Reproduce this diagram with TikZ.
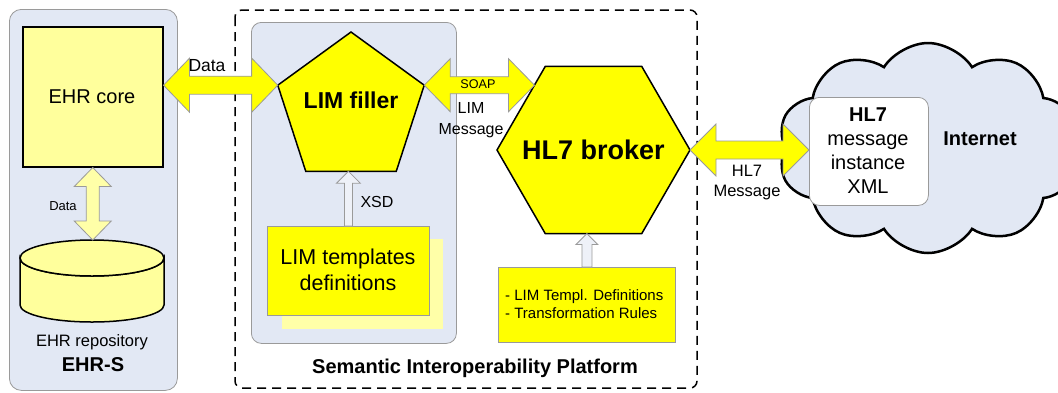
\documentclass[tikz,border=0pt]{standalone}
\usepackage{fontspec}
\setmainfont{Liberation Sans}
\usetikzlibrary{shapes.geometric,shapes.symbols,calc}
\definecolor{panel}{HTML}{E2E8F4}
\definecolor{paleyel}{HTML}{FFFF9C}
\definecolor{paleyel2}{HTML}{FFFFA8}
\definecolor{yel}{HTML}{FFFF00}
\definecolor{edgegray}{HTML}{9A9A9A}
\newcommand\fs[2]{\fontsize{#1}{#2}\selectfont}
% horizontal double arrow: style, left tip, right tip, shaft half, head half, head length
\newcommand\hdbl[6]{\path[#1] let \p1=(#2), \p2=(#3) in
  (\x1,\y1) -- (\x1+#6,\y1+#5) -- (\x1+#6,\y1+#4) -- (\x2-#6,\y1+#4) -- (\x2-#6,\y1+#5) -- (\x2,\y1)
  -- (\x2-#6,\y1-#5) -- (\x2-#6,\y1-#4) -- (\x1+#6,\y1-#4) -- (\x1+#6,\y1-#5) -- cycle;}
% vertical double arrow: style, top tip, bottom tip, shaft half, head half, head length
\newcommand\vdbl[6]{\path[#1] let \p1=(#2), \p2=(#3) in
  (\x1,\y1) -- (\x1+#5,\y1-#6) -- (\x1+#4,\y1-#6) -- (\x1+#4,\y2+#6) -- (\x1+#5,\y2+#6) -- (\x1,\y2)
  -- (\x1-#5,\y2+#6) -- (\x1-#4,\y2+#6) -- (\x1-#4,\y1-#6) -- (\x1-#5,\y1-#6) -- cycle;}
% upward single arrow: style, base, tip, shaft half, head half, head length
\newcommand\uparr[6]{\path[#1] let \p1=(#2), \p2=(#3) in
  (\x1-#4,\y1) -- (\x1-#4,\y2-#6) -- (\x1-#5,\y2-#6) -- (\x1,\y2) -- (\x1+#5,\y2-#6) -- (\x1+#4,\y2-#6) -- (\x1+#4,\y1) -- cycle;}
\tikzset{
  panelbox/.style={draw=edgegray, fill=panel, line width=0.8pt, rounded corners=12pt},
  boxy/.style={draw=edgegray, fill=yel, line width=0.8pt, inner sep=0pt},
  bigarrow/.style={draw=edgegray, fill=yel, line width=0.8pt},
  palearrow/.style={draw=edgegray, fill=paleyel2, line width=0.8pt},
  lightarrow/.style={draw=edgegray, fill=panel!60!white, line width=0.8pt},
  blackshape/.style={draw=black, fill=yel, line width=1.5pt, inner sep=0pt, outer sep=0pt},
  txt/.style={inner sep=0pt, align=center},
}
\begin{document}
\begin{tikzpicture}[x=1pt,y=-1pt]
\useasboundingbox (0,0) rectangle (1058,392);
\clip (0,0) rectangle (1058,392);
\fill[white] (0,0) rectangle (1058,392);

% ---------- EHR-S panel ----------
\node[panelbox, minimum width=168pt, minimum height=381pt, anchor=north west] (ehrs) at (9,9) {};
\node[draw=black, fill=paleyel, line width=1.5pt, minimum width=140pt, minimum height=140pt, anchor=north west, inner sep=0pt] (core) at (22,26) {};
\node[txt, font=\fs{20}{24}] (coretxt) at (92,97) {EHR core};
% cylinder (EHR repository)
\coordinate (repo) at (92,240);
\path[draw=black, fill=paleyel, line width=1.5pt]
  (20,258) -- (20,305) arc[start angle=180, end angle=360, x radius=72pt, y radius=17pt]
  -- (164,258) arc[start angle=0, end angle=-180, x radius=72pt, y radius=18pt] -- cycle;
\path[draw=black, fill=paleyel, line width=1.5pt] (92,258) ellipse[x radius=72pt, y radius=18pt];
\node[txt, font=\fs{16.5}{20}] (repotxt) at (92,342) {EHR repository};
\node[txt, font=\fs{20}{24}\bfseries] (ehrstxt) at (93,365) {EHR-S};

% ---------- Semantic Interoperability Platform ----------
\draw[dashed, dash pattern=on 9pt off 6pt, line width=1.5pt, rounded corners=7pt] (235,10) rectangle (697,388);
\node[txt, font=\fs{20}{24}\bfseries] (siptxt) at (475,368) {Semantic Interoperability Platform};
\node[panelbox, rounded corners=10pt, minimum width=205pt, minimum height=321pt, anchor=north west] (limpanel) at (251,22) {};

% LIM filler pentagon
\node[blackshape, regular polygon, regular polygon sides=5, minimum size=154pt] (filler) at (351,109) {};
\node[txt, font=\fs{23}{27}\bfseries] (fillertxt) at (351,100) {LIM filler};

% LIM templates definitions
\node[fill=paleyel2, minimum width=161pt, minimum height=90pt, anchor=north west, inner sep=0pt] (limshadow) at (282,239) {};
\node[boxy, minimum width=162pt, minimum height=89pt, anchor=north west] (limtpl) at (267,226) {};
\node[txt, font=\fs{21.5}{26}] (limtpltxt) at (348,270) {LIM templates\\definitions};
\coordinate (xsdtip) at (filler.south);
\uparr{lightarrow}{limtpl.north}{xsdtip}{4pt}{12pt}{12pt}
\node[txt, font=\fs{16}{20}] (xsdtxt) at (377,202) {XSD};

% HL7 broker hexagon
\node[blackshape, regular polygon, regular polygon sides=6, minimum size=193pt] (broker) at (593.5,150) {};
\node[txt, font=\fs{27}{32}\bfseries] (brokertxt) at (593.5,150) {HL7 broker};

% rules box
\node[boxy, minimum width=177pt, minimum height=75pt, anchor=north west] (rules) at (498,267) {};
\node[txt, align=left, anchor=west, font=\fs{15}{18}] (rulestxt) at (505,304) {- LIM Templ. Definitions\\- Transformation Rules};
\coordinate (rulestip) at (rules.north |- broker.south);
\uparr{lightarrow}{rules.north}{rulestip}{5pt}{11pt}{11pt}

% ---------- arrows ----------
% Data (EHR core <-> LIM filler)
\coordinate (datastart) at (core.east |- filler.162);
\hdbl{bigarrow}{datastart}{filler.162}{9pt}{27pt}{26pt}
\node[txt, font=\fs{17.5}{21}] (datatxt) at (207,66) {Data};
% Data (EHR core <-> repository)
\vdbl{palearrow}{core.south}{repo}{6.5pt}{18.5pt}{19pt}
\node[txt, font=\fs{13}{16}] (data2txt) at (63,206) {Data};
% SOAP (LIM filler <-> HL7 broker)
\coordinate (soapend) at (534.5,83.5);
\hdbl{bigarrow}{filler.18}{soapend}{8.5pt}{26.5pt}{26pt}
\node[txt, font=\fs{12.6}{15}] (soaptxt) at (478,84) {SOAP};
\node[txt, font=\fs{16}{21}] (limmsgtxt) at (471,120) {LIM\\Message};

% ---------- Internet cloud ----------
\node[cloud, cloud puffs=10, cloud puff arc=115, cloud ignores aspect, draw=black, fill=panel, line width=2.5pt,
      minimum width=300pt, minimum height=210pt] (cloud) at (928,148) {};
\node[txt, font=\fs{20}{24}\bfseries] (nettxt) at (980,139) {Internet};
\node[draw=edgegray, fill=white, rounded corners=10pt, line width=0.8pt, minimum width=119pt,
      minimum height=108pt, anchor=north west, inner sep=0pt] (msgbox) at (809,97) {};
\node[txt, font=\fs{20}{24}] (msgtxt) at (868,151) {\textbf{HL7}\\message\\instance\\XML};

% HL7 Message (HL7 broker <-> message box)
\coordinate (msgend) at (msgbox.west |- broker.east);
\hdbl{bigarrow}{broker.east}{msgend}{9pt}{26pt}{26pt}
\node[txt, font=\fs{16.5}{20}] (hl7msgtxt) at (747,183) {HL7\\Message};
\end{tikzpicture}
\end{document}
